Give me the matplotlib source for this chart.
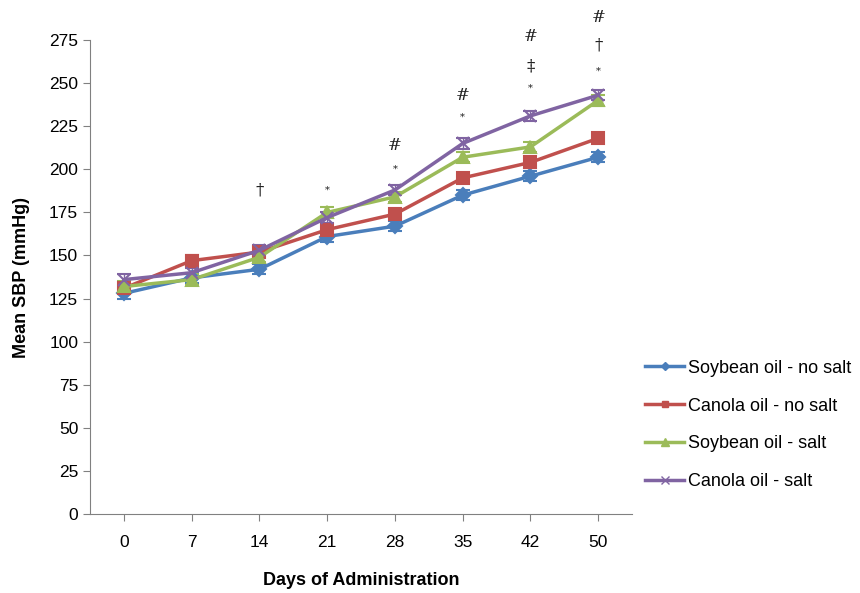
import matplotlib
matplotlib.use("Agg")
import matplotlib.pyplot as plt
from matplotlib.lines import Line2D
import numpy as np

plt.rcParams["font.family"] = ["Liberation Sans", "DejaVu Sans"]

days = ["0", "7", "14", "21", "28", "35", "42", "50"]
soy_nosalt = [128, 137, 142, 161, 167, 185, 196, 207]
canola_nosalt = [131, 147, 152, 165, 174, 195, 204, 218]
soy_salt = [132, 136, 149, 175, 184, 207, 213, 240]
canola_salt = [136, 140, 153, 172, 188, 215, 231, 243]
errors = [3, 3, 3, 3, 3, 3, 3, 3]

# significance marks: (day index, y value, symbol)
marks = [(2, 188, "\u2020"), (3, 188, "*"),
         (4, 200, "*"), (4, 214, "#"),
         (5, 230, "*"), (5, 243, "#"),
         (6, 247, "*"), (6, 260, "\u2021"), (6, 277, "#"),
         (7, 257, "*"), (7, 272, "\u2020"), (7, 288, "#")]

series = [("Soybean oil - no salt", soy_nosalt, "#4a7ebb", "D", 7),
          ("Canola oil - no salt", canola_nosalt, "#c0504d", "s", 8),
          ("Soybean oil - salt", soy_salt, "#9bbb59", "^", 9),
          ("Canola oil - salt", canola_salt, "#8064a2", "x", 9)]

fig = plt.figure(figsize=(8.6, 5.93), dpi=100)
ax = fig.add_axes([0.1047, 0.1332, 0.6303, 0.7993])
x = np.arange(len(days))
handles = []
for label, vals, color, marker, ms in series:
    ax.errorbar(x, vals, yerr=errors, color=color, marker=marker, ms=ms,
                lw=2.5, mew=1.5, capsize=5, elinewidth=1, capthick=1)
    handles.append(Line2D([], [], color=color, marker=marker, ms=ms * 0.6,
                          lw=2.5, mew=1, label=label))

for i, yv, sym in marks:
    size = 7 if sym == "*" else 12
    ax.text(i, yv, sym, ha="center", va="center", fontsize=size,
            family="DejaVu Serif", color="#222222", clip_on=False)

ax.set_xlim(-0.5, len(days) - 0.5)
ax.set_ylim(0, 275)
ax.set_yticks(np.arange(0, 276, 25))
ax.set_xticks(x)
ax.set_xticklabels(days)
ax.tick_params(labelsize=12.5, color="#808080", length=5)
ax.tick_params(axis="x", pad=10)
ax.spines[["top", "right"]].set_visible(False)
for s in ["left", "bottom"]:
    ax.spines[s].set_color("#808080")
ax.set_xlabel("Days of Administration", fontsize=13, fontweight="bold",
              labelpad=16)
ax.set_ylabel("Mean SBP (mmHg)", fontsize=13, fontweight="bold", labelpad=14)

leg = ax.legend(handles=handles, loc="center left",
                bbox_to_anchor=(1.01, 0.188), frameon=False,
                fontsize=13, handlelength=2.2, labelspacing=1.15,
                handletextpad=0.2, borderaxespad=0)

fig.savefig("out.png", dpi=100)
